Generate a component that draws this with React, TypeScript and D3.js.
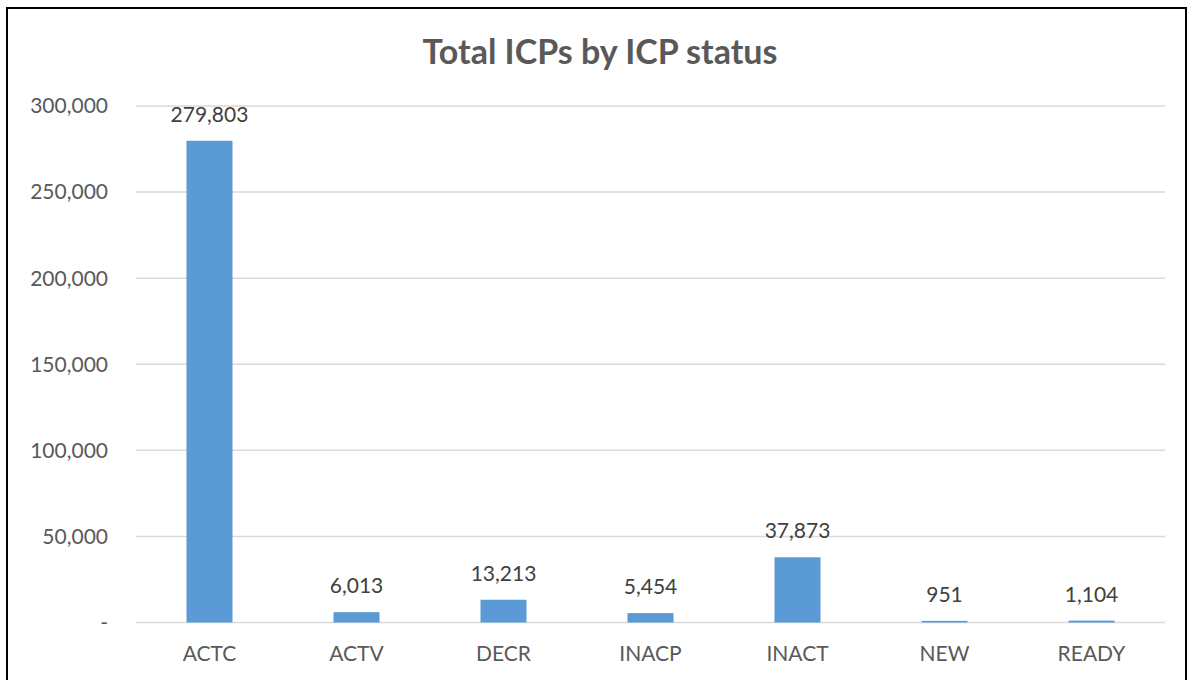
import React from 'react'
import * as d3 from 'd3'

const categories = ['ACTC', 'ACTV', 'DECR', 'INACP', 'INACT', 'NEW', 'READY']
const totals = [279803, 6013, 13213, 5454, 37873, 951, 1104]
const yTicks = [0, 50000, 100000, 150000, 200000, 250000, 300000]

const W = 1189
const H = 680
const margin = { top: 106, right: 24, bottom: 57, left: 136 }
const font = 'Lato, "Open Sans", sans-serif'

export default function App() {
  const innerW = W - margin.left - margin.right
  const innerH = H - margin.top - margin.bottom - 0.5

  const x = d3.scaleBand().domain(categories).range([0, innerW]).paddingInner(0.687).paddingOuter(0.3435)
  const y = d3.scaleLinear().domain([0, 300000]).range([innerH, 0])
  const fmt = d3.format(',')

  return (
    <svg width={W} height={H} style={{ position: 'absolute', left: 0, top: 0, background: '#fff' }}>
      <rect x={7} y={8} width={1179} height={H} fill="#fff" stroke="#000" strokeWidth={2} />
      <text x={600} y={64} textAnchor="middle" fontFamily={font} fontWeight="bold" fontSize={34} fill="#595959">
        Total ICPs by ICP status
      </text>
      <g transform={`translate(${margin.left},${margin.top})`}>
        {yTicks.map((t) => (
          <g key={t}>
            <line x1={0} x2={innerW} y1={y(t)} y2={y(t)} stroke="#d9d9d9" strokeWidth={1.5} />
            <text x={-28} y={y(t)} dy="0.35em" textAnchor="end" fontFamily={font} fontSize={21} fill="#595959">
              {t === 0 ? '-' : fmt(t)}
            </text>
          </g>
        ))}
        {categories.map((c, i) => (
          <g key={c}>
            <rect x={x(c)} y={y(totals[i])} width={x.bandwidth()} height={innerH - y(totals[i])} fill="#5b9bd5" />
            <text x={x(c)! + x.bandwidth() / 2} y={y(totals[i]) - 19} textAnchor="middle" fontFamily={font} fontSize={21} fill="#404040">
              {fmt(totals[i])}
            </text>
            <text x={x(c)! + x.bandwidth() / 2} y={innerH + 38} textAnchor="middle" fontFamily={font} fontSize={21} fill="#595959">
              {c}
            </text>
          </g>
        ))}
      </g>
    </svg>
  )
}
